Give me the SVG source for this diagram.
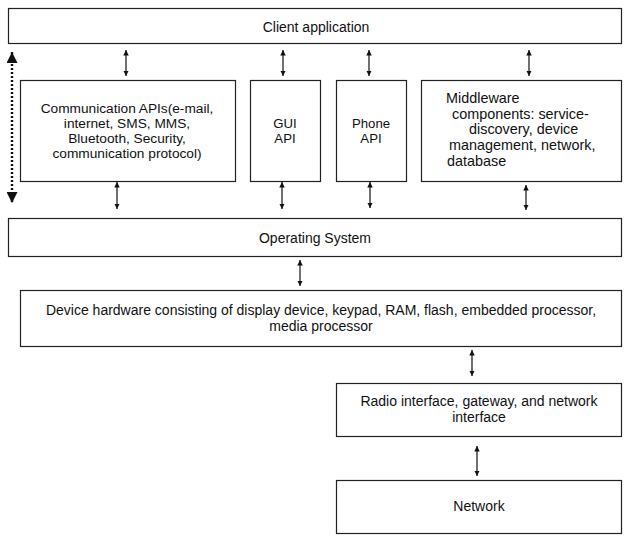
<svg xmlns="http://www.w3.org/2000/svg" width="640" height="552" viewBox="0 0 640 552">
<style>
.box{fill:#fff;stroke:#222;stroke-width:1.2}
.t{font-family:"Liberation Sans",Arial,sans-serif;font-size:14px;fill:#111}
.s{font-size:13.2px}
.m{font-size:13.7px}
.w{font-size:14.4px}
.c{text-anchor:middle}
.ln{stroke:#111;stroke-width:1.2;fill:none}
.dot{stroke:#111;stroke-width:2.4;stroke-dasharray:2 2;fill:none}
</style>
<defs>
<marker id="ah" viewBox="0 0 10 10" refX="10" refY="5" markerWidth="5.5" markerHeight="5.5" markerUnits="userSpaceOnUse" orient="auto-start-reverse"><path d="M0,0 L10,5 L0,10 z" fill="#111"/></marker>
<marker id="bh" viewBox="0 0 10 10" refX="10" refY="5" markerWidth="11" markerHeight="11" markerUnits="userSpaceOnUse" orient="auto-start-reverse"><path d="M0,0 L10,5 L0,10 z" fill="#111"/></marker>
</defs>
<rect width="640" height="552" fill="#fff"/>
<g id="client"><rect class="box" x="8.5" y="8.5" width="613" height="35"/><text class="t c" x="316" y="32">Client application</text></g>
<g id="comm"><rect class="box" x="20.5" y="80.5" width="215" height="101"/>
<text class="t m c" x="127" y="112.5">Communication APIs(e-mail,</text>
<text class="t m c" x="127" y="127.5">internet, SMS, MMS,</text>
<text class="t m c" x="127" y="142.5">Bluetooth, Security,</text>
<text class="t m c" x="127" y="157.5">communication protocol)</text></g>
<g id="gui"><rect class="box" x="250.5" y="80.5" width="70" height="101"/>
<text class="t s c" x="285" y="128">GUI</text><text class="t s c" x="285" y="143">API</text></g>
<g id="phone"><rect class="box" x="336.5" y="80.5" width="70" height="101"/>
<text class="t s c" x="371" y="128">Phone</text><text class="t s c" x="371" y="143">API</text></g>
<g id="middleware"><rect class="box" x="421.5" y="80.5" width="200" height="101"/>
<text class="t w" x="446" y="103">Middleware</text>
<text class="t w" x="452" y="118.5">components: service-</text>
<text class="t w" x="469" y="134">discovery, device</text>
<text class="t w" x="449" y="150">management, network,</text>
<text class="t w" x="447" y="166">database</text></g>
<g id="os"><rect class="box" x="8.5" y="218.5" width="613" height="38"/><text class="t c" x="315" y="243">Operating System</text></g>
<g id="hardware"><rect class="box" x="20.5" y="290.5" width="601" height="56"/>
<text class="t c" x="321" y="315">Device hardware consisting of display device, keypad, RAM, flash, embedded processor,</text>
<text class="t c" x="321" y="331">media processor</text></g>
<g id="radio"><rect class="box" x="336.5" y="383.5" width="285" height="53"/>
<text class="t c" x="479" y="406">Radio interface, gateway, and network</text>
<text class="t c" x="479" y="422">interface</text></g>
<g id="network"><rect class="box" x="336.5" y="480.5" width="285" height="53"/>
<text class="t c" x="479" y="511">Network</text></g>
<g id="connectors">
<path class="dot" d="M12,52 V203" marker-start="url(#bh)" marker-end="url(#bh)"/>
<path class="ln" d="M126,50 V76" marker-start="url(#ah)" marker-end="url(#ah)"/>
<path class="ln" d="M283,50 V76" marker-start="url(#ah)" marker-end="url(#ah)"/>
<path class="ln" d="M369,50 V76" marker-start="url(#ah)" marker-end="url(#ah)"/>
<path class="ln" d="M529,50 V76" marker-start="url(#ah)" marker-end="url(#ah)"/>
<path class="ln" d="M117,182 V209" marker-start="url(#ah)" marker-end="url(#ah)"/>
<path class="ln" d="M282,182 V209" marker-start="url(#ah)" marker-end="url(#ah)"/>
<path class="ln" d="M370,182 V208" marker-start="url(#ah)" marker-end="url(#ah)"/>
<path class="ln" d="M526,185 V210" marker-start="url(#ah)" marker-end="url(#ah)"/>
<path class="ln" d="M300,260 V286" marker-start="url(#ah)" marker-end="url(#ah)"/>
<path class="ln" d="M472,350 V376" marker-start="url(#ah)" marker-end="url(#ah)"/>
<path class="ln" d="M477,446 V476" marker-start="url(#ah)" marker-end="url(#ah)"/>
</g>
</svg>
